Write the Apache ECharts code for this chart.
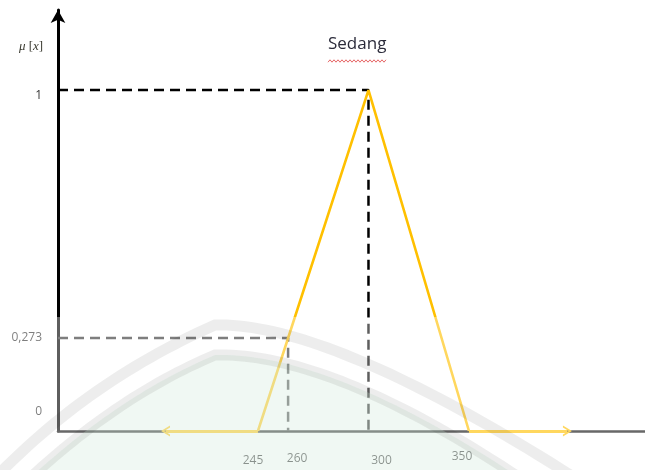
<!DOCTYPE html>
<html>
<head>
<meta charset="utf-8">
<script src="https://cdn.jsdelivr.net/npm/echarts@6/dist/echarts.min.js"></script>
<style>
html,body{margin:0;padding:0;background:#fff;}
#c{width:645px;height:470px;}
</style>
</head>
<body>
<div id="c"></div>
<script>
// ---- data ----
const SET_NAME = 'Sedang';
const X_TICKS = [245, 260, 300, 350];
const Y_TICKS = [0, 0.273, 1];
const Y_TICK_LABELS = ['0', '0,273', '1'];
const MF_X = [245, 300, 350];
const MF_Y = [0, 1, 0];
const LEFT_TAIL = [245, 199];
const RIGHT_TAIL = [350, 399];
const PEAK = [300, 1];
const CUT = [260, 0.273];
const X_RANGE = [145.5, 437.6];
const Y_MAX = 1.235;

const YELLOW = '#FFC000';
const chart = echarts.init(document.getElementById('c'), null, {renderer: 'canvas'});

const xRich = {
  x0: {padding: [4, 10, 0, 0]},
  x1: {padding: [2, 0, 0, 18]},
  x2: {padding: [4, 0, 0, 26]},
  x3: {padding: [0, 14, 0, 0]}
};
const yRich = {
  y0: {padding: [0, 0, 38, 0]},
  y1: {padding: [0, 0, 0, 0]},
  y2: {padding: [10, 0, 0, 0]}
};
const chevron = 'path://M0,10 L5,0 L10,10 L8.2,10 L5,3.6 L1.8,10 Z';

// decoration helpers (watermark arcs, wavy underline)
function quad(p0, c, p2, n) {
  const pts = [];
  for (let i = 0; i <= n; i++) {
    const t = i / n, a = (1 - t) * (1 - t), b = 2 * t * (1 - t), d = t * t;
    pts.push([a * p0[0] + b * c[0] + d * p2[0], a * p0[1] + b * c[1] + d * p2[1]]);
  }
  return pts;
}
const outerArc = quad([-5, 478], [90, 380], [215, 325], 30).concat(quad([215, 325], [330, 322], [575, 478], 40).slice(1));
const innerArc = quad([30, 478], [120, 395], [215, 355], 30).concat(quad([215, 355], [330, 352], [520, 478], 40).slice(1));
const wave = [];
for (let i = 0; i <= 29; i++) wave.push([328 + i * 2, 61 + (i % 2 ? -1.2 : 1.2)]);

chart.setOption({
  animation: false,
  grid: {left: 58, right: 0, top: 10, bottom: 39, containLabel: false},
  xAxis: {
    type: 'value', min: X_RANGE[0], max: X_RANGE[1],
    splitLine: {show: false},
    axisLine: {show: true, onZero: false,
      lineStyle: {color: '#111', width: 2.5}},
    axisTick: {show: false},
    axisLabel: {
      customValues: X_TICKS, margin: 20, color: '#1a1a1a', fontSize: 12,
      fontFamily: 'Open Sans',
      formatter: function (v) { const i = X_TICKS.indexOf(v); return '{x' + i + '|' + v + '}'; },
      rich: xRich
    }
  },
  yAxis: {
    type: 'value', min: 0, max: Y_MAX,
    splitLine: {show: false},
    axisLine: {show: true, symbol: ['none', 'arrow'], symbolSize: [11, 13],
      lineStyle: {color: '#000', width: 3}},
    axisTick: {show: false},
    axisLabel: {
      customValues: Y_TICKS, margin: 16, color: '#333', fontSize: 12,
      fontFamily: 'Open Sans',
      formatter: function (v) { const i = Y_TICKS.indexOf(v); return '{y' + i + '|' + Y_TICK_LABELS[i] + '}'; },
      rich: yRich
    }
  },
  series: [
    {
      type: 'line', name: 'peak-guide', silent: true, symbol: 'none', z: 3,
      data: [[X_RANGE[0], PEAK[1]], PEAK, [PEAK[0], 0]],
      lineStyle: {color: '#000', width: 2.5, type: [10, 6]}
    },
    {
      type: 'line', name: 'cut-guide', silent: true, symbol: 'none', z: 3,
      data: [[X_RANGE[0], CUT[1]], CUT, [CUT[0], 0]],
      lineStyle: {color: '#333', width: 2.5, type: [10, 6]}
    },
    {
      type: 'line', name: SET_NAME, silent: true, symbol: 'none', z: 5,
      data: MF_X.map((x, i) => [x, MF_Y[i]]),
      lineStyle: {color: YELLOW, width: 2.6},
      markLine: {
        silent: true, symbol: ['none', chevron], symbolSize: [11, 9],
        label: {show: false},
        lineStyle: {color: YELLOW, width: 3, type: 'solid'},
        data: [
          [{coord: [LEFT_TAIL[0], 0]}, {coord: [LEFT_TAIL[1], 0]}],
          [{coord: [RIGHT_TAIL[0], 0]}, {coord: [RIGHT_TAIL[1], 0]}]
        ]
      }
    }
  ],
  graphic: [
    {type: 'text', x: 328, y: 36, z: 10,
      style: {text: SET_NAME, font: '17px "Open Sans"', fill: '#2b2b3a'}},
    {type: 'polyline', z: 10, shape: {points: wave},
      style: {stroke: '#e04040', lineWidth: 0.8, fill: null}},
    {type: 'text', x: 19, y: 40, z: 10,
      style: {
        text: '{i|μ} [{i|x}]', font: '13px "Liberation Serif"', fill: '#3a3a30',
        rich: {i: {fontStyle: 'italic', fontFamily: 'Liberation Serif', fontSize: 13, fill: '#3a3a30'}}
      }},
    // watermark overlay
    {type: 'rect', z: 100, silent: true, shape: {x: 0, y: 317, width: 645, height: 153},
      style: {fill: 'rgba(255,255,255,0.37)'}},
    {type: 'polygon', z: 101, silent: true, shape: {points: innerArc},
      style: {fill: 'rgba(205,232,214,0.3)'}},
    {type: 'polyline', z: 102, silent: true, shape: {points: outerArc},
      style: {fill: null, stroke: 'rgba(0,0,0,0.07)', lineWidth: 11}},
    {type: 'polyline', z: 102, silent: true, shape: {points: innerArc},
      style: {fill: null, stroke: 'rgba(0,0,0,0.07)', lineWidth: 11}}
  ]
});
</script>
</body>
</html>
